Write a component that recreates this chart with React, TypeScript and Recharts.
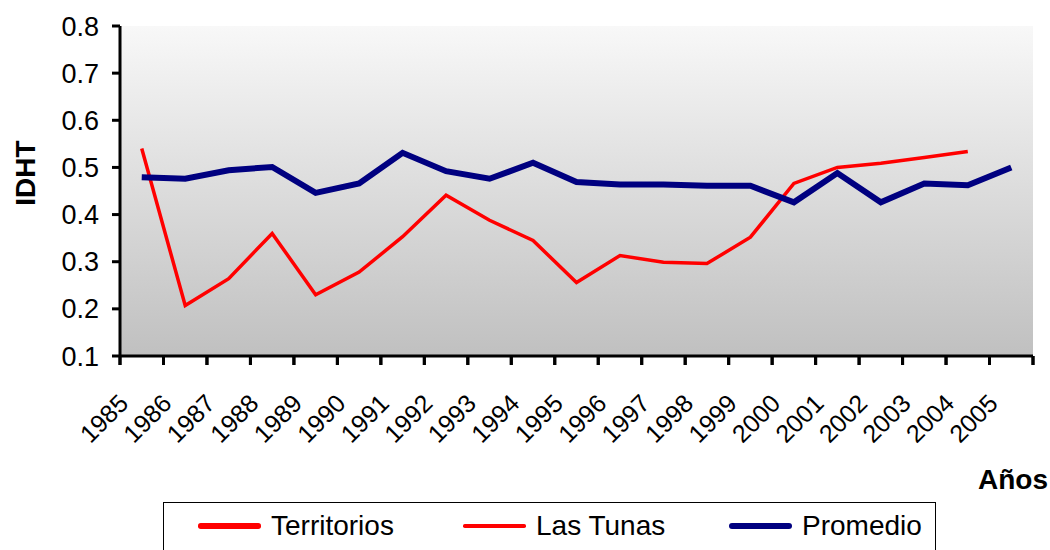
import React from 'react'
import { LineChart, Line, XAxis, YAxis, CartesianGrid, Label, ReferenceLine } from 'recharts'

const years = [
  '1985', '1986', '1987', '1988', '1989', '1990', '1991', '1992', '1993', '1994', '1995',
  '1996', '1997', '1998', '1999', '2000', '2001', '2002', '2003', '2004', '2005',
]
const territorios: (number | null)[] = years.map(() => null)
const lasTunas: (number | null)[] = [
  0.540, 0.207, 0.264, 0.360, 0.230, 0.278, 0.353, 0.441, 0.388, 0.345, 0.256,
  0.313, 0.299, 0.296, 0.352, 0.466, 0.500, 0.509, 0.521, 0.534, null,
]
const promedio = [
  0.479, 0.476, 0.494, 0.501, 0.446, 0.466, 0.531, 0.492, 0.476, 0.510, 0.469,
  0.464, 0.464, 0.461, 0.461, 0.426, 0.488, 0.426, 0.466, 0.462, 0.500,
]
const yTicks = [0.1, 0.2, 0.3, 0.4, 0.5, 0.6, 0.7, 0.8]

const series = [
  { key: 'territorios', name: 'Territorios', color: '#ff0000', width: 5.5 },
  { key: 'lasTunas', name: 'Las Tunas', color: '#ff0000', width: 3.5 },
  { key: 'promedio', name: 'Promedio', color: '#000080', width: 6 },
]

const rows = years.map((y, i) => ({
  x: i + 0.5,
  year: y,
  territorios: territorios[i],
  lasTunas: lasTunas[i],
  promedio: promedio[i],
}))

const boundaryTicks = years.map((_, i) => i).concat([years.length])

const font = '"Liberation Sans", Arial, sans-serif'

// ticks sit on category boundaries; each year label goes half a band to the right
const YearTick = (props: any) => {
  const { x, y, payload, width } = props
  const label = years[payload.value]
  if (!label) return <g />
  const half = width / years.length / 2
  const px = x + half - 12
  const py = y + 40
  return (
    <text
      x={px}
      y={py}
      textAnchor="end"
      transform={`rotate(-45 ${px} ${py})`}
      fontFamily={font}
      fontSize={25}
      fill="#000"
    >
      {label}
    </text>
  )
}

export default function App() {
  return (
    <div style={{ position: 'fixed', left: 0, top: 0, width: 1050, height: 550, background: '#fff' }}>
      <LineChart
        width={1050}
        height={550}
        data={rows}
        margin={{ top: 26, right: 17, left: 0, bottom: 94 }}
      >
        <defs>
          <linearGradient id="plotBg" x1="0" y1="0" x2="0" y2="1">
            <stop offset="0%" stopColor="#f8f8f8" />
            <stop offset="100%" stopColor="#c0c0c0" />
          </linearGradient>
        </defs>
        <CartesianGrid horizontal={false} vertical={false} fill="url(#plotBg)" />
        <XAxis
          type="number"
          dataKey="x"
          domain={[0, years.length]}
          ticks={boundaryTicks}
          interval={0}
          tick={<YearTick />}
          tickSize={9}
          tickMargin={0}
          height={100}
          axisLine={{ stroke: '#000', strokeWidth: 3 }}
          tickLine={{ stroke: '#000', strokeWidth: 3 }}
        />
        <YAxis
          type="number"
          domain={[0.1, 0.8]}
          ticks={yTicks}
          interval={0}
          width={120}
          tickSize={8}
          tickMargin={13}
          tickFormatter={(v: number) => v.toFixed(1)}
          tick={{ fill: '#000', fontSize: 27, fontFamily: font }}
          axisLine={{ stroke: '#000', strokeWidth: 3 }}
          tickLine={{ stroke: '#000', strokeWidth: 3 }}
        >
          <Label
            content={() => (
              <text
                x={0}
                y={0}
                transform="translate(35 173) rotate(-90)"
                textAnchor="middle"
                fontFamily={font}
                fontWeight="bold"
                fontSize={28}
                fill="#000"
              >
                IDHT
              </text>
            )}
          />
        </YAxis>
        {/* x tick marks below the axis, one per category boundary */}
        {boundaryTicks.map((t) => (
          <ReferenceLine
            key={'tk' + t}
            segment={[
              { x: t, y: 0.1 },
              { x: t, y: 0.081 },
            ]}
            stroke="#000"
            strokeWidth={3}
            ifOverflow="visible"
          />
        ))}
        {series.map((s) => (
          <Line
            key={s.key}
            type="linear"
            dataKey={s.key}
            name={s.name}
            stroke={s.color}
            strokeWidth={s.width}
            dot={false}
            activeDot={false}
            connectNulls={false}
            isAnimationActive={false}
          />
        ))}
      </LineChart>
      <div
        style={{
          position: 'absolute',
          left: 978,
          top: 464,
          fontFamily: font,
          fontWeight: 'bold',
          fontSize: 28,
          lineHeight: '32px',
          color: '#000',
        }}
      >
        Años
      </div>
      <div
        style={{
          position: 'absolute',
          left: 163,
          top: 502,
          width: 773,
          height: 60,
          border: '1px solid #000',
          boxSizing: 'border-box',
          fontFamily: font,
          fontSize: 28,
          color: '#000',
        }}
      >
        {series.map((s, i) => (
          <div
            key={s.key}
            style={{
              position: 'absolute',
              left: [34, 299, 565][i],
              top: 6,
              display: 'flex',
              alignItems: 'center',
              height: 34,
            }}
          >
            <span
              style={{
                display: 'inline-block',
                width: 63,
                height: s.width,
                borderRadius: s.width / 2,
                background: s.color,
                marginRight: 10,
              }}
            />
            <span>{s.name}</span>
          </div>
        ))}
      </div>
    </div>
  )
}
